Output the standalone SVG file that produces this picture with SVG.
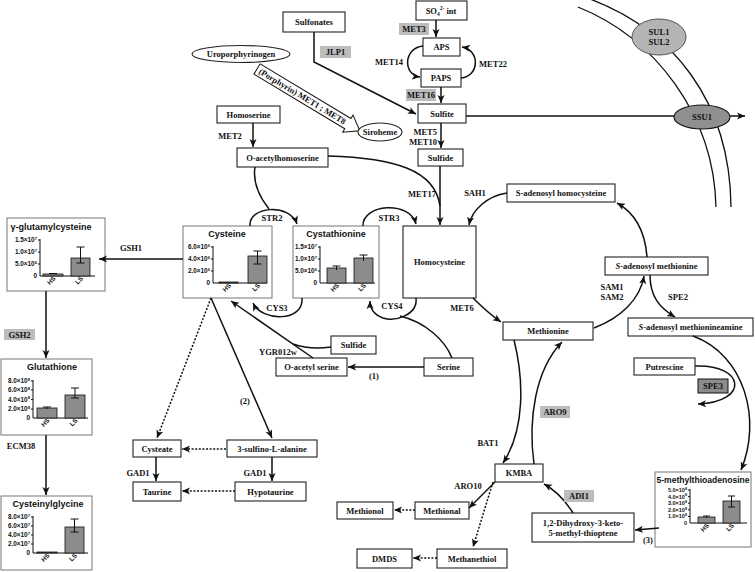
<svg xmlns="http://www.w3.org/2000/svg" width="755" height="572" viewBox="0 0 755 572">
<style>
.bx{fill:#fff;stroke:#222;stroke-width:1.1}
.cb{fill:#fff;stroke:#777;stroke-width:1}
.t{font-family:"Liberation Serif",serif;font-weight:bold;font-size:8.5px;fill:#111;text-anchor:middle}
.e{font-family:"Liberation Serif",serif;font-weight:bold;font-size:8.5px;fill:#111;text-anchor:middle}
.g{fill:#bdbdbd}
.ct{font-family:"Liberation Sans",sans-serif;font-weight:bold;font-size:9px;fill:#111;text-anchor:middle}
.tk{font-family:"Liberation Sans",sans-serif;font-weight:bold;font-size:6.4px;fill:#111;text-anchor:end}
.ax{stroke:#111;stroke-width:1;fill:none}
.bar{fill:#8c8c8c;stroke:#111;stroke-width:0.8}
.c{fill:none;stroke:#111;stroke-width:1.5}
.d{fill:none;stroke:#111;stroke-width:1.5;stroke-dasharray:2,1.6}
.m{fill:none;stroke:#111;stroke-width:1.3}
</style>
<defs>
<marker id="ah" markerUnits="userSpaceOnUse" markerWidth="9" markerHeight="8" refX="8" refY="4" orient="auto">
<path d="M0,0.5 L8,4 L0,7.5 L2,4 z" fill="#111"/>
</marker>
</defs>

<!-- membrane -->
<g id="membrane">
<path class="m" d="M578,7 C655,38 714,115 716,207"/>
<path class="m" d="M590,-1 C672,30 730,100 731,207"/>
</g>

<g id="sulfonates"><rect class="bx" x="283" y="12" width="62" height="20"/><text class="t" x="314" y="25">Sulfonates</text></g>
<g id="uroporphyrinogen"><ellipse cx="241" cy="54" rx="49" ry="8.5" fill="#fff" stroke="#222" stroke-width="1.1"/><text class="t" x="241" y="57">Uroporphyrinogen</text></g>
<g id="porphyrin" transform="translate(257,69) rotate(31)">
<polygon points="0,-6 106,-6 106,-10 120,0 106,10 106,6 0,6" fill="#fff" stroke="#111" stroke-width="1"/>
<text class="t" x="53" y="3">(Porphyrin) MET1 ; MET8</text></g>
<g id="siroheme"><ellipse cx="380" cy="132" rx="22" ry="9" fill="#fff" stroke="#222" stroke-width="1.1"/><text class="t" x="380" y="135">Siroheme</text></g>
<g id="homoserine"><rect class="bx" x="217" y="106" width="63" height="17"/><text class="t" x="248.5" y="117.5">Homoserine</text></g>
<g id="oacetylhomoserine"><rect class="bx" x="237" y="148" width="91" height="19"/><text class="t" x="282.5" y="160.5">O-acetylhomoserine</text></g>
<g id="so4"><rect class="bx" x="416" y="1" width="51" height="19"/><text class="t" x="441" y="14">SO<tspan font-size="5.5" dy="2">4</tspan><tspan font-size="5.5" dy="-6">2-</tspan><tspan dy="4"> int</tspan></text></g>
<g id="aps"><rect class="bx" x="423" y="38" width="37" height="18"/><text class="t" x="441.5" y="50">APS</text></g>
<g id="paps"><rect class="bx" x="421" y="69" width="40" height="18"/><text class="t" x="441" y="81">PAPS</text></g>
<g id="sulfite"><rect class="bx" x="418" y="104" width="48" height="19"/><text class="t" x="442" y="116.5">Sulfite</text></g>
<g id="sulfide"><rect class="bx" x="418" y="149" width="45" height="17"/><text class="t" x="440.5" y="160.5">Sulfide</text></g>
<g id="sah"><rect class="bx" x="507" y="184" width="108" height="18"/><text class="t" x="561" y="196">S-adenosyl homocysteine</text></g>
<g id="homocysteine"><rect class="bx" x="403" y="226" width="73" height="72"/><text class="t" x="439.5" y="265">Homocysteine</text></g>
<g id="sam"><rect class="bx" x="605" y="257" width="103" height="18"/><text class="t" x="656.5" y="269"><tspan font-style="italic">S</tspan>-adenosyl methionine</text></g>
<g id="methionine"><rect class="bx" x="503" y="322" width="90" height="18"/><text class="t" x="548" y="334">Methionine</text></g>
<g id="samine"><rect class="bx" x="628" y="318" width="125" height="18"/><text class="t" x="690.5" y="330"><tspan font-style="italic">S</tspan>-adenosyl methionineamine</text></g>
<g id="putrescine"><rect class="bx" x="634" y="358" width="61" height="17"/><text class="t" x="664.5" y="369.5">Putrescine</text></g>
<g id="serine"><rect class="bx" x="424" y="358" width="49" height="18"/><text class="t" x="448.5" y="370">Serine</text></g>
<g id="oacetylserine"><rect class="bx" x="276" y="358" width="71" height="18"/><text class="t" x="311.5" y="370">O-acetyl serine</text></g>
<g id="sulfide2"><rect class="bx" x="331" y="336" width="45" height="18"/><text class="t" x="353.5" y="348">Sulfide</text></g>
<g id="sulfinoalanine"><rect class="bx" x="227" y="440" width="90" height="17"/><text class="t" x="272" y="451.5">3-sulfino-L-alanine</text></g>
<g id="cysteate"><rect class="bx" x="133" y="440" width="48" height="17"/><text class="t" x="157" y="451.5">Cysteate</text></g>
<g id="taurine"><rect class="bx" x="133" y="482" width="48" height="19"/><text class="t" x="157" y="494.5">Taurine</text></g>
<g id="hypotaurine"><rect class="bx" x="235" y="482" width="71" height="19"/><text class="t" x="270.5" y="494.5">Hypotaurine</text></g>
<g id="kmba"><rect class="bx" x="495" y="464" width="48" height="18"/><text class="t" x="519" y="476">KMBA</text></g>
<g id="methional"><rect class="bx" x="415" y="502" width="54" height="17"/><text class="t" x="442" y="513.5">Methional</text></g>
<g id="methionol"><rect class="bx" x="337" y="502" width="56" height="17"/><text class="t" x="365" y="513.5">Methionol</text></g>
<g id="methanethiol"><rect class="bx" x="437" y="549" width="70" height="19"/><text class="t" x="472" y="561.5">Methanethiol</text></g>
<g id="dmds"><rect class="bx" x="357" y="549" width="55" height="19"/><text class="t" x="384.5" y="561.5">DMDS</text></g>
<g id="dihydroxy"><rect class="bx" x="532" y="513" width="102" height="29"/><text class="t" x="583" y="525.5">1,2-Dihydroxy-3-keto-</text><text class="t" x="583" y="536">5-methyl-thioptene</text></g>

<!-- charts -->
<g id="gammaglutamylcysteine">
<rect class="cb" x="7" y="218" width="98" height="73"/>
<text class="ct" x="51" y="230">γ-glutamylcysteine</text>
<path class="ax" d="M40,239 L40,276 L95,276 M38,240 L40,240 M38,252 L40,252 M38,264 L40,264"/>
<text class="tk" x="37" y="242">1.5×10<tspan font-size="4.2" dy="-2.5">7</tspan></text>
<text class="tk" x="37" y="254">1.0×10<tspan font-size="4.2" dy="-2.5">7</tspan></text>
<text class="tk" x="37" y="266">5.0×10<tspan font-size="4.2" dy="-2.5">6</tspan></text>
<text class="tk" x="37" y="278">0</text>
<rect class="bar" x="43" y="274" width="20" height="2"/>
<rect class="bar" x="71" y="258" width="19" height="18"/>
<path class="ax" d="M80.5,247 L80.5,263 M76.5,247 L84.5,247 M76.5,263 L84.5,263 M49,273.5 L57,273.5"/>
<text class="tk" transform="translate(56,279) rotate(-45)">HS</text>
<text class="tk" transform="translate(83.5,279) rotate(-45)">LS</text>
</g>

<g id="cysteine">
<rect class="cb" x="183" y="226" width="89" height="72"/>
<text class="ct" x="227" y="237">Cysteine</text>
<path class="ax" d="M213,246 L213,283 L267,283 M211,247 L213,247 M211,259 L213,259 M211,271 L213,271"/>
<text class="tk" x="210" y="249">6.0×10<tspan font-size="4.2" dy="-2.5">6</tspan></text>
<text class="tk" x="210" y="261">4.0×10<tspan font-size="4.2" dy="-2.5">6</tspan></text>
<text class="tk" x="210" y="273">2.0×10<tspan font-size="4.2" dy="-2.5">6</tspan></text>
<text class="tk" x="210" y="285">0</text>
<rect class="bar" x="219" y="282" width="19" height="1"/>
<rect class="bar" x="248" y="256" width="19" height="27"/>
<path class="ax" d="M257.5,251 L257.5,264 M253.5,251 L261.5,251 M253.5,264 L261.5,264"/>
<text class="tk" transform="translate(231.5,286) rotate(-45)">HS</text>
<text class="tk" transform="translate(260.5,286) rotate(-45)">LS</text>
</g>

<g id="cystathionine">
<rect class="cb" x="293" y="226" width="86" height="72"/>
<text class="ct" x="336" y="237">Cystathionine</text>
<path class="ax" d="M320,246 L320,283 L375,283 M318,247 L320,247 M318,259 L320,259 M318,271 L320,271"/>
<text class="tk" x="317" y="249">1.5×10<tspan font-size="4.2" dy="-2.5">7</tspan></text>
<text class="tk" x="317" y="261">1.0×10<tspan font-size="4.2" dy="-2.5">7</tspan></text>
<text class="tk" x="317" y="273">5.0×10<tspan font-size="4.2" dy="-2.5">6</tspan></text>
<text class="tk" x="317" y="285">0</text>
<rect class="bar" x="327" y="268" width="19" height="15"/>
<rect class="bar" x="354" y="258" width="19" height="25"/>
<path class="ax" d="M336.5,266 L336.5,270 M332.5,266 L340.5,266 M363.5,255 L363.5,261 M359.5,255 L367.5,255"/>
<text class="tk" transform="translate(339.5,286) rotate(-45)">HS</text>
<text class="tk" transform="translate(366.5,286) rotate(-45)">LS</text>
</g>

<g id="glutathione">
<rect class="cb" x="1" y="359" width="91" height="76"/>
<text class="ct" x="52" y="370">Glutathione</text>
<path class="ax" d="M33,380 L33,418 L88,418 M31,381 L33,381 M31,390 L33,390 M31,399.5 L33,399.5 M31,409 L33,409"/>
<text class="tk" x="30" y="383">8.0×10<tspan font-size="4.2" dy="-2.5">8</tspan></text>
<text class="tk" x="30" y="392">6.0×10<tspan font-size="4.2" dy="-2.5">8</tspan></text>
<text class="tk" x="30" y="401.5">4.0×10<tspan font-size="4.2" dy="-2.5">8</tspan></text>
<text class="tk" x="30" y="411">2.0×10<tspan font-size="4.2" dy="-2.5">8</tspan></text>
<text class="tk" x="30" y="420">0</text>
<rect class="bar" x="37" y="408" width="20" height="10"/>
<rect class="bar" x="65" y="395" width="20" height="23"/>
<path class="ax" d="M47,407 L47,409 M43,407 L51,407 M75,388 L75,398 M71,388 L79,388 M71,398 L79,398"/>
<text class="tk" transform="translate(50,421) rotate(-45)">HS</text>
<text class="tk" transform="translate(78,421) rotate(-45)">LS</text>
</g>

<g id="cysteinylglycine">
<rect class="cb" x="1" y="496" width="91" height="74"/>
<text class="ct" x="48" y="507">Cysteinylglycine</text>
<path class="ax" d="M33,516 L33,553 L88,553 M31,517 L33,517 M31,526 L33,526 M31,535 L33,535 M31,544 L33,544"/>
<text class="tk" x="30" y="519">8.0×10<tspan font-size="4.2" dy="-2.5">7</tspan></text>
<text class="tk" x="30" y="528">6.0×10<tspan font-size="4.2" dy="-2.5">7</tspan></text>
<text class="tk" x="30" y="537">4.0×10<tspan font-size="4.2" dy="-2.5">7</tspan></text>
<text class="tk" x="30" y="546">2.0×10<tspan font-size="4.2" dy="-2.5">7</tspan></text>
<text class="tk" x="30" y="555">0</text>
<rect class="bar" x="37" y="552" width="20" height="1"/>
<rect class="bar" x="65" y="527" width="19" height="26"/>
<path class="ax" d="M74.5,519 L74.5,532 M70.5,519 L78.5,519 M70.5,532 L78.5,532"/>
<text class="tk" transform="translate(50,556) rotate(-45)">HS</text>
<text class="tk" transform="translate(77.5,556) rotate(-45)">LS</text>
</g>

<g id="mta">
<rect class="cb" x="655" y="472" width="96" height="75"/>
<text class="ct" x="703" y="483" textLength="93" lengthAdjust="spacingAndGlyphs">5-methylthioadenosine</text>
<path class="ax" d="M690,489 L690,523 L747,523 M688,490 L690,490 M688,496.6 L690,496.6 M688,503.2 L690,503.2 M688,509.8 L690,509.8 M688,516.4 L690,516.4"/>
<text class="tk" x="687" y="492" style="font-size:5.5px">5.0×10<tspan font-size="3.7" dy="-2.3">8</tspan></text>
<text class="tk" x="687" y="498.6" style="font-size:5.5px">4.0×10<tspan font-size="3.7" dy="-2.3">8</tspan></text>
<text class="tk" x="687" y="505.2" style="font-size:5.5px">3.0×10<tspan font-size="3.7" dy="-2.3">8</tspan></text>
<text class="tk" x="687" y="511.8" style="font-size:5.5px">2.0×10<tspan font-size="3.7" dy="-2.3">8</tspan></text>
<text class="tk" x="687" y="518.4" style="font-size:5.5px">1.0×10<tspan font-size="3.7" dy="-2.3">8</tspan></text>
<text class="tk" x="687" y="525" style="font-size:5.5px">0</text>
<rect class="bar" x="698" y="517" width="17" height="6"/>
<rect class="bar" x="723" y="501" width="17" height="22"/>
<path class="ax" d="M706.5,516 L706.5,518 M703,516 L710,516 M731.5,496 L731.5,507 M728,496 L735,496 M728,507 L735,507"/>
<text class="tk" transform="translate(709.5,526) rotate(-45)">HS</text>
<text class="tk" transform="translate(734.5,526) rotate(-45)">LS</text>
</g>

<g id="connectors">
<path class="c" d="M436,20 L436,37" marker-end="url(#ah)"/>
<path class="c" d="M423,46 C403,48 403,75 420,77" marker-end="url(#ah)"/>
<path class="c" d="M461,78 C480,76 480,50 462,47" marker-end="url(#ah)"/>
<path class="c" d="M441,87 L441,103" marker-end="url(#ah)"/>
<path class="c" d="M441,123 L441,148" marker-end="url(#ah)"/>
<path class="c" d="M440,166 L440,225" marker-end="url(#ah)"/>
<path class="c" d="M328,156 C395,158 435,170 440,206"/>
<path class="c" d="M253,123 L253,147" marker-end="url(#ah)"/>
<path class="c" d="M314,32 L314,62 L416,114" marker-end="url(#ah)"/>
<path class="c" d="M466,116 L745,116" marker-end="url(#ah)"/>
<path class="c" d="M255,167 C252,185 262,200 269,209"/>
<path class="c" d="M250,226 C248,206 290,203 297,224" marker-end="url(#ah)"/>
<path class="c" d="M363,226 C362,204 410,200 416,224" marker-end="url(#ah)"/>
<path class="c" d="M507,193 C487,196 472,210 469,225" marker-end="url(#ah)"/>
<path class="c" d="M473,298 Q488,313 501,322" marker-end="url(#ah)"/>
<path class="c" d="M594,328 C620,318 640,300 644,276" marker-end="url(#ah)"/>
<path class="c" d="M647,257 C645,230 635,213 617,203" marker-end="url(#ah)"/>
<path class="c" d="M650,275 C650,297 660,308 675,317" marker-end="url(#ah)"/>
<path class="c" d="M693,336 C745,355 762,420 741,470" marker-end="url(#ah)"/>
<path class="c" d="M695,366 C745,364 750,402 698,404" marker-end="url(#ah)"/>
<path class="c" d="M313,358 L231,301" marker-end="url(#ah)"/>
<path class="c" d="M331,347 Q310,350 293,344"/>
<path class="c" d="M424,367 L348,367" marker-end="url(#ah)"/>
<path class="c" d="M452,358 C445,340 425,322 400,316"/>
<path class="c" d="M416,298 C418,315 395,322 383,318 C375,315 370,310 370,301" marker-end="url(#ah)"/>
<path class="c" d="M302,298 C304,322 262,322 253,303" marker-end="url(#ah)"/>
<path class="c" d="M211,298 L272,438" marker-end="url(#ah)"/>
<path class="d" d="M211,298 L157,438" marker-end="url(#ah)"/>
<path class="d" d="M226,449 L182,449" marker-end="url(#ah)"/>
<path class="c" d="M156,457 L156,481" marker-end="url(#ah)"/>
<path class="c" d="M272,457 L272,481" marker-end="url(#ah)"/>
<path class="d" d="M235,491 L182,491" marker-end="url(#ah)"/>
<path class="c" d="M183,259 L99,259" marker-end="url(#ah)"/>
<path class="c" d="M46,291 L46,358" marker-end="url(#ah)"/>
<path class="c" d="M46,435 L46,495" marker-end="url(#ah)"/>
<path class="c" d="M514,340 C524,380 525,430 503,463" marker-end="url(#ah)"/>
<path class="c" d="M534,464 C528,420 535,370 562,342" marker-end="url(#ah)"/>
<path class="c" d="M573,513 C565,500 555,490 544,484" marker-end="url(#ah)"/>
<path class="c" d="M659,528 L635,530" marker-end="url(#ah)"/>
<path class="c" d="M495,482 L469,508" marker-end="url(#ah)"/>
<path class="d" d="M493,482 L473,547" marker-end="url(#ah)"/>
<path class="d" d="M415,510 L394,510" marker-end="url(#ah)"/>
<path class="d" d="M437,558 L413,558" marker-end="url(#ah)"/>
</g>

<g id="sul"><ellipse cx="659" cy="37" rx="27" ry="18" fill="#b4b4b4" stroke="#555" stroke-width="1"/>
<text class="e" x="659" y="35">SUL1</text><text class="e" x="659" y="45">SUL2</text></g>
<g id="ssu1"><ellipse cx="702" cy="117" rx="28" ry="12" fill="#8f8f8f" stroke="#111" stroke-width="1.1"/>
<text class="e" x="702" y="120">SSU1</text></g>
<g id="spe3"><rect x="698" y="379" width="30" height="14" fill="#8c8c8c" stroke="#111" stroke-width="1"/><text class="e" x="713" y="389">SPE3</text></g>

<!-- enzyme labels -->
<g id="labels">
<rect class="g" x="320" y="46" width="31" height="12"/><text class="e" x="335.5" y="55">JLP1</text>
<rect class="g" x="399" y="23" width="30" height="12"/><text class="e" x="414" y="32">MET3</text>
<text class="e" x="389" y="65">MET14</text>
<text class="e" x="493" y="67">MET22</text>
<rect class="g" x="406" y="89" width="30" height="12"/><text class="e" x="421" y="98">MET16</text>
<text class="e" x="437" y="135" style="text-anchor:end">MET5</text>
<text class="e" x="437" y="145" style="text-anchor:end">MET10</text>
<text class="e" x="230" y="139">MET2</text>
<text class="e" x="422" y="197">MET17</text>
<text class="e" x="475" y="196">SAH1</text>
<text class="e" x="272" y="221">STR2</text>
<text class="e" x="389" y="221">STR3</text>
<text class="e" x="131" y="251">GSH1</text>
<text class="e" x="277" y="311">CYS3</text>
<text class="e" x="392" y="309">CYS4</text>
<text class="e" x="462" y="311">MET6</text>
<text class="e" x="612" y="290">SAM1</text>
<text class="e" x="612" y="300">SAM2</text>
<text class="e" x="678" y="300">SPE2</text>
<text class="e" x="278" y="355">YGR012w</text>
<text class="e" x="374" y="379">(1)</text>
<text class="e" x="245" y="404">(2)</text>
<text class="e" x="138" y="476">GAD1</text>
<text class="e" x="255" y="476">GAD1</text>
<rect class="g" x="4" y="329" width="31" height="11"/><text class="e" x="19.5" y="337.5">GSH2</text>
<text class="e" x="21" y="449">ECM38</text>
<text class="e" x="488" y="446">BAT1</text>
<rect class="g" x="540" y="406" width="30" height="12"/><text class="e" x="555" y="415">ARO9</text>
<text class="e" x="468" y="489">ARO10</text>
<rect class="g" x="564" y="490" width="30" height="12"/><text class="e" x="579" y="499">ADI1</text>
<text class="e" x="648" y="543">(3)</text>
</g>
</svg>
